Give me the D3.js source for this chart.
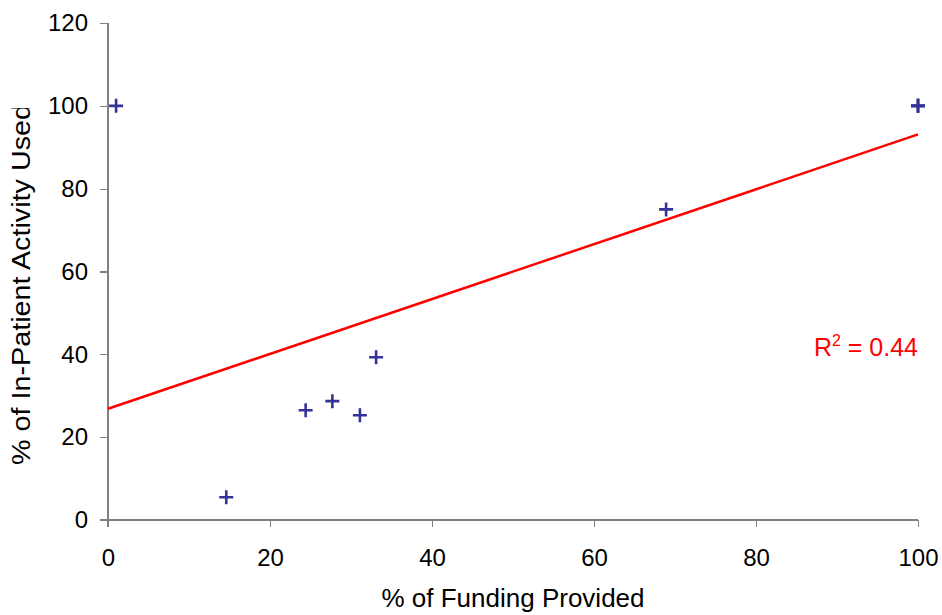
<!DOCTYPE html>
<html lang="en">
<head>
<meta charset="UTF-8">
<title>Funding vs In-Patient Activity</title>
<script src="https://d3js.org/d3.v7.min.js"></script>
<style>
    html, body { margin: 0; background: white; }
    body { font-family: "Liberation Sans", Arial, sans-serif; }
    .axis path, .axis line { stroke: #808080; stroke-width: 1.3px; shape-rendering: crispEdges; }
    .axis text { font-size: 24px; fill: black; font-family: "Liberation Sans", Arial, sans-serif; }
    .title { font-size: 26px; fill: black; }
</style>
</head>
<body>
<div id="chart"></div>
<script>
    // % of Funding Provided (x) and % of In-Patient Activity Used (y)
    const fundingPct  = [1, 14.6, 24.4, 27.7, 31.1, 33.1, 68.9, 100, 100, 100];
    const activityPct = [100, 5.5, 26.5, 28.7, 25.3, 39.3, 75, 100, 100, 100];
    const xTicks = [0, 20, 40, 60, 80, 100];
    const yTicks = [0, 20, 40, 60, 80, 100, 120];

    const width = 942, height = 615;
    const margin = { top: 23, right: 24, bottom: 95, left: 108 };

    const svg = d3.select("#chart").append("svg")
        .attr("width", width)
        .attr("height", height);

    const x = d3.scaleLinear().domain([0, 100]).range([margin.left, width - margin.right]);
    const y = d3.scaleLinear().domain([0, 120]).range([height - margin.bottom, margin.top]);

    // axes
    svg.append("g")
        .attr("class", "axis")
        .attr("transform", `translate(0,${y(0)})`)
        .call(d3.axisBottom(x).tickValues(xTicks).tickSize(7).tickSizeOuter(0).tickPadding(22))
        .call(g => g.select(".domain").attr("d", `M${x(0) - 8},0H${x(100)}`));

    svg.append("g")
        .attr("class", "axis")
        .attr("transform", `translate(${x(0)},0)`)
        .call(d3.axisLeft(y).tickValues(yTicks).tickSize(8).tickSizeOuter(0).tickPadding(12))
        .call(g => g.select(".domain").attr("d", `M0,${y(120)}V${y(0) + 7}`));

    // least squares trendline
    const n = fundingPct.length;
    const mx = d3.mean(fundingPct), my = d3.mean(activityPct);
    let sxy = 0, sxx = 0, syy = 0;
    for (let i = 0; i < n; i++) {
        sxy += (fundingPct[i] - mx) * (activityPct[i] - my);
        sxx += (fundingPct[i] - mx) ** 2;
        syy += (activityPct[i] - my) ** 2;
    }
    const slope = sxy / sxx;
    const intercept = my - slope * mx;
    const r2 = (sxy * sxy) / (sxx * syy);

    svg.append("line")
        .attr("x1", x(0)).attr("y1", y(intercept))
        .attr("x2", x(100)).attr("y2", y(intercept + slope * 100))
        .attr("stroke", "#ff0000")
        .attr("stroke-width", 2.5);

    // cross markers
    const half = 7;
    const pts = fundingPct.map((v, i) => [v, activityPct[i]]);
    svg.selectAll(".pt")
        .data(pts)
        .enter().append("path")
        .attr("class", "pt")
        .attr("d", d => `M${x(d[0]) - half},${y(d[1])}H${x(d[0]) + half}M${x(d[0])},${y(d[1]) - half}V${y(d[1]) + half}`)
        .attr("stroke", "#333399")
        .attr("stroke-width", 2.6)
        .attr("fill", "none");

    // R squared label
    const r2Text = svg.append("text")
        .attr("x", x(100))
        .attr("y", 356)
        .attr("text-anchor", "end")
        .attr("fill", "#ff0000")
        .style("font-size", "25px");
    r2Text.append("tspan").text("R");
    r2Text.append("tspan").attr("dy", -10).style("font-size", "16px").text("2");
    r2Text.append("tspan").attr("dy", 10).text(" = " + r2.toFixed(2));

    // axis titles
    svg.append("text")
        .attr("class", "title")
        .attr("x", (x(0) + x(100)) / 2)
        .attr("y", 607)
        .attr("text-anchor", "middle")
        .text("% of Funding Provided");

    svg.append("clipPath").attr("id", "ylab-clip")
        .append("rect").attr("x", 0).attr("y", 108).attr("width", 60).attr("height", 400);

    svg.append("g")
        .attr("clip-path", "url(#ylab-clip)")
        .append("text")
        .attr("class", "title")
        .attr("transform", "translate(30,465) rotate(-90)")
        .attr("text-anchor", "start")
        .attr("textLength", 361)
        .attr("lengthAdjust", "spacingAndGlyphs")
        .text("% of In-Patient Activity Used");
</script>
</body>
</html>
